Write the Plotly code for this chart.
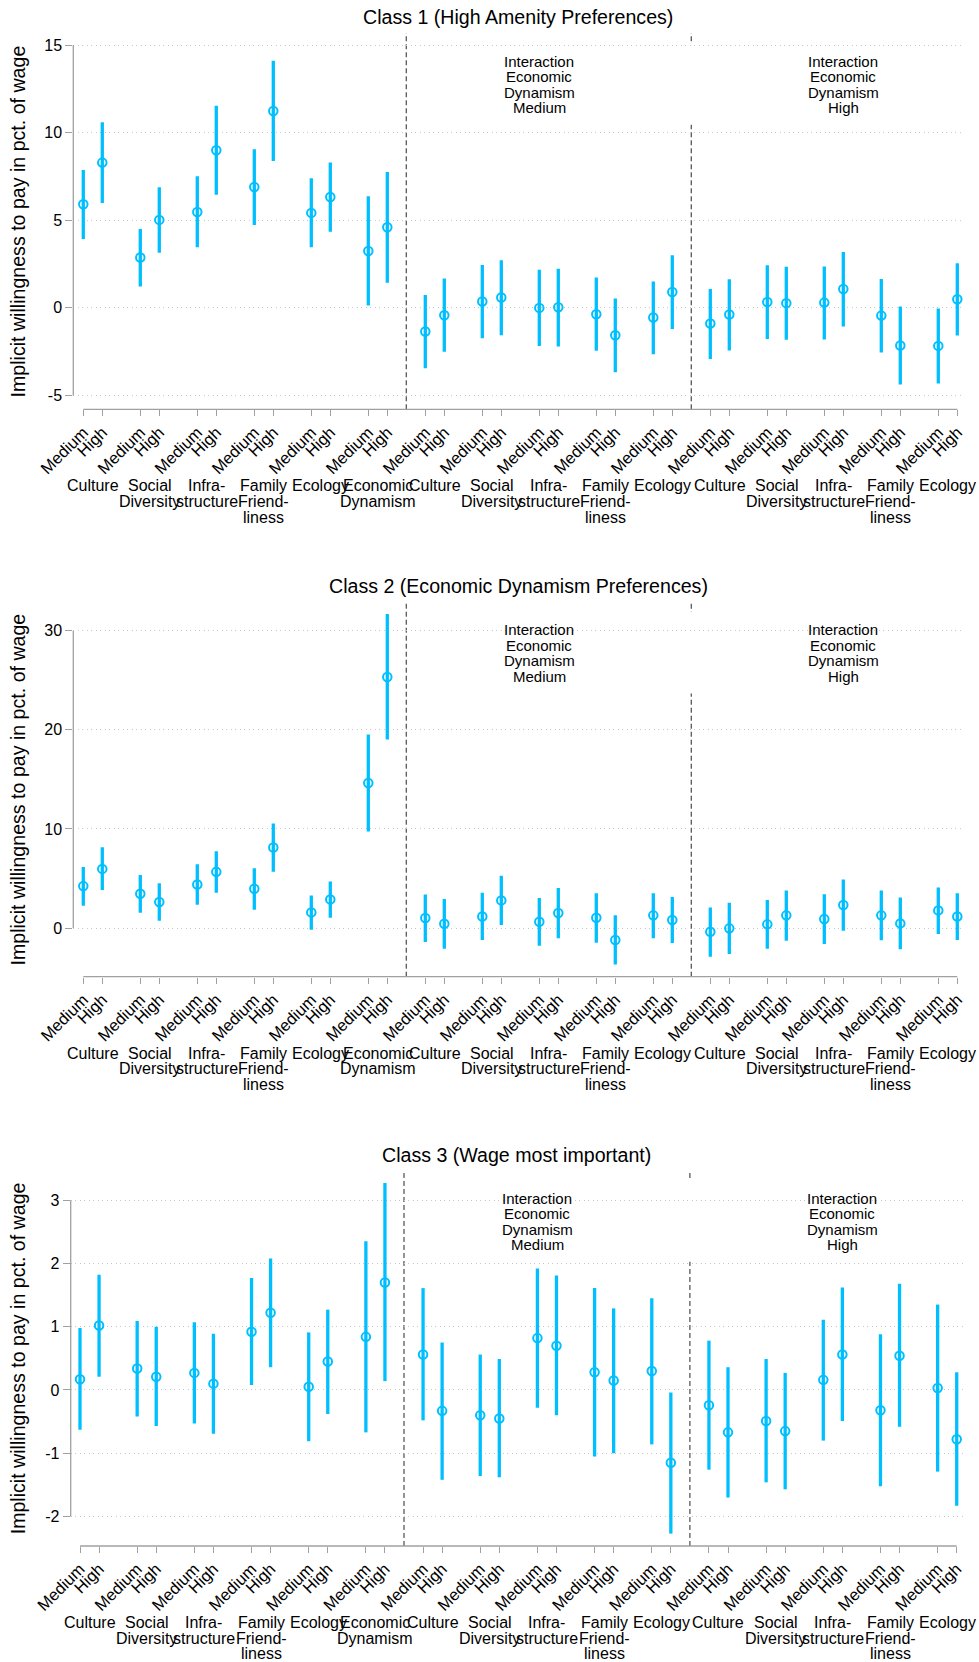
import plotly.graph_objects as go

# ---------------- data ----------------
level_labels = ["Medium", "High"]
main_categories = [["Culture"], ["Social", "Diversity"], ["Infra-", "structure"],
                   ["Family", "Friend-", "liness"], ["Ecology"], ["Economic", "Dynamism"]]
interaction_categories = main_categories[:5]
heading_medium = ["Interaction", "Economic", "Dynamism", "Medium"]
heading_high = ["Interaction", "Economic", "Dynamism", "High"]
panel_titles = ["Class 1 (High Amenity Preferences)",
                "Class 2 (Economic Dynamism Preferences)",
                "Class 3 (Wage most important)"]
y_title = "Implicit willingness to pay in pct. of wage"

# Class 1: main effects (Medium/High per category), interaction with Econ. Dyn. Medium, High
c1_main_est = [5.91, 8.29, 2.87, 5.02, 5.47, 8.99, 6.90, 11.23, 5.42, 6.33, 3.25, 4.60]
c1_main_lo = [3.93, 5.99, 1.22, 3.14, 3.46, 6.46, 4.73, 8.38, 3.46, 4.35, 0.13, 1.43]
c1_main_hi = [7.87, 10.59, 4.50, 6.88, 7.51, 11.54, 9.05, 14.10, 7.39, 8.30, 6.37, 7.75]
c1_med_est = [-1.35, -0.42, 0.36, 0.59, 0.00, 0.04, -0.36, -1.56, -0.55, 0.91]
c1_med_lo = [-3.44, -2.51, -1.73, -1.56, -2.17, -2.20, -2.45, -3.67, -2.64, -1.20]
c1_med_hi = [0.74, 1.67, 2.45, 2.72, 2.17, 2.24, 1.73, 0.53, 1.50, 3.00]
c1_high_est = [-0.89, -0.38, 0.34, 0.27, 0.30, 1.08, -0.44, -2.15, -2.17, 0.49]
c1_high_lo = [-2.91, -2.43, -1.77, -1.82, -1.81, -1.06, -2.55, -4.37, -4.31, -1.58]
c1_high_hi = [1.08, 1.63, 2.43, 2.34, 2.36, 3.19, 1.65, 0.08, -0.04, 2.55]

# Class 2
c2_main_est = [4.23, 5.97, 3.46, 2.62, 4.40, 5.67, 3.96, 8.12, 1.58, 2.89, 14.63, 25.34]
c2_main_lo = [2.25, 3.83, 1.54, 0.74, 2.35, 3.56, 1.85, 5.67, -0.17, 1.04, 9.73, 19.03]
c2_main_hi = [6.17, 8.15, 5.34, 4.53, 6.44, 7.75, 6.04, 10.54, 3.29, 4.70, 19.53, 31.68]
c2_med_est = [1.01, 0.44, 1.17, 2.79, 0.64, 1.51, 1.04, -1.21, 1.28, 0.81]
c2_med_lo = [-1.41, -2.08, -1.21, 0.30, -1.78, -1.04, -1.48, -3.69, -1.04, -1.51]
c2_med_hi = [3.39, 2.92, 3.56, 5.27, 3.02, 4.03, 3.52, 1.28, 3.52, 3.12]
c2_high_est = [-0.37, -0.03, 0.37, 1.28, 0.91, 2.32, 1.28, 0.47, 1.78, 1.17]
c2_high_lo = [-2.89, -2.62, -2.08, -1.28, -1.61, -0.27, -1.24, -2.15, -0.60, -1.21]
c2_high_hi = [2.08, 2.55, 2.82, 3.79, 3.42, 4.90, 3.79, 3.09, 4.09, 3.52]

# Class 3
c3_main_est = [0.17, 1.02, 0.34, 0.21, 0.27, 0.10, 0.92, 1.22, 0.05, 0.45, 0.84, 1.70]
c3_main_lo = [-0.63, 0.21, -0.42, -0.57, -0.53, -0.69, 0.08, 0.36, -0.81, -0.38, -0.67, 0.14]
c3_main_hi = [0.98, 1.82, 1.09, 1.00, 1.07, 0.89, 1.77, 2.08, 0.91, 1.27, 2.35, 3.27]
c3_med_est = [0.56, -0.33, -0.40, -0.45, 0.82, 0.70, 0.28, 0.15, 0.30, -1.15]
c3_med_lo = [-0.48, -1.42, -1.36, -1.38, -0.28, -0.40, -1.05, -1.00, -0.86, -2.27]
c3_med_hi = [1.61, 0.75, 0.56, 0.49, 1.92, 1.81, 1.61, 1.29, 1.45, -0.04]
c3_high_est = [-0.24, -0.67, -0.49, -0.65, 0.16, 0.56, -0.32, 0.54, 0.03, -0.78]
c3_high_lo = [-1.26, -1.70, -1.46, -1.57, -0.80, -0.49, -1.52, -0.58, -1.29, -1.83]
c3_high_hi = [0.78, 0.36, 0.49, 0.27, 1.11, 1.62, 0.88, 1.68, 1.35, 0.28]

c1_yticks = [-5, 0, 5, 10, 15]
c2_yticks = [0, 10, 20, 30]
c3_yticks = [-2, -1, 0, 1, 2, 3]

# ---------------- layout constants (pixels) ----------------
W, H = 979, 1662
FONT = "Liberation Sans, Arial, Helvetica, sans-serif"
BLUE = "#00BFFF"
AXIS_GRAY = "#a0a0a0"
RIGHT_PX = 963

panels = [
    dict(title=panel_titles[0], top=33.0, bottom=409.3, left=73.3, yrange=[-5.787, 15.685],
         xrange=[0.474, 47.3], yticks=c1_yticks,
         est=[c1_main_est, c1_med_est, c1_high_est],
         lo=[c1_main_lo, c1_med_lo, c1_high_lo],
         hi=[c1_main_hi, c1_med_hi, c1_high_hi]),
    dict(title=panel_titles[1], top=601.7, bottom=976.7, left=73.3, yrange=[-4.91, 32.93],
         xrange=[0.474, 47.3], yticks=c2_yticks,
         est=[c2_main_est, c2_med_est, c2_high_est],
         lo=[c2_main_lo, c2_med_lo, c2_high_lo],
         hi=[c2_main_hi, c2_med_hi, c2_high_hi]),
    dict(title=panel_titles[2], top=1170.0, bottom=1546.0, left=70.7, yrange=[-2.466, 3.477],
         xrange=[0.512, 47.33], yticks=c3_yticks,
         est=[c3_main_est, c3_med_est, c3_high_est],
         lo=[c3_main_lo, c3_med_lo, c3_high_lo],
         hi=[c3_main_hi, c3_med_hi, c3_high_hi]),
]
section_cats = [main_categories, interaction_categories, interaction_categories]
section_heads = [None, heading_medium, heading_high]


def py(px):
    return 1 - px / H


# structural positions: pairs (Medium, High) per category, gap of one slot, divider between sections
positions, pair_centers, dividers = [], [], []
p = 1
for s, cats in enumerate(section_cats):
    sec_pos = []
    for lab in cats:
        sec_pos += [p, p + 1]
        pair_centers.append((p + 0.5, lab))
        p += 3
    positions.append(sec_pos)
    if s < 2:
        dividers.append(p - 1)
head_pos = [None, 25, 41]
all_pos = [q for sec in positions for q in sec]
tick_text = [level_labels[i % 2] for i in range(len(all_pos))]

fig = go.Figure()
annotations, shapes = [], []
layout = dict(width=W, height=H, margin=dict(l=0, r=0, t=0, b=0),
              paper_bgcolor="white", plot_bgcolor="white", showlegend=False,
              template="none", font=dict(family=FONT, color="black"))

for i, P in enumerate(panels):
    n = "" if i == 0 else str(i + 1)
    xa, ya = "x" + n, "y" + n
    xs, ys, ep, em = [], [], [], []
    for s in range(3):
        for q, e, l, h in zip(positions[s], P["est"][s], P["lo"][s], P["hi"][s]):
            xs.append(q); ys.append(e); ep.append(h - e); em.append(e - l)
    fig.add_trace(go.Scatter(
        x=xs, y=ys, mode="markers", xaxis=xa, yaxis=ya,
        marker=dict(symbol="circle-open", size=8.5, color=BLUE, line=dict(width=2, color=BLUE)),
        error_y=dict(type="data", symmetric=False, array=ep, arrayminus=em,
                     thickness=3.3, width=0, color=BLUE),
        hoverinfo="skip"))

    layout["xaxis" + n] = dict(
        domain=[P["left"] / W, RIGHT_PX / W], range=P["xrange"], anchor=ya,
        tickmode="array", tickvals=all_pos, ticktext=tick_text, tickangle=-45,
        ticks="outside", ticklen=6, tickwidth=1.2, tickcolor=AXIS_GRAY,
        tickfont=dict(family=FONT, size=16.5, color="black"),
        showgrid=False, zeroline=False, showline=False, automargin=False)
    layout["yaxis" + n] = dict(
        domain=[py(P["bottom"]), py(P["top"])], range=P["yrange"], anchor=xa,
        tickmode="array", tickvals=P["yticks"], ticktext=[str(t) for t in P["yticks"]],
        ticks="outside", ticklen=7, tickwidth=1.2, tickcolor=AXIS_GRAY,
        tickfont=dict(family=FONT, size=16, color="black"),
        showgrid=True, gridcolor="#c8c8c8", gridwidth=1, griddash="1px,3.5px",
        zeroline=False, showline=False, automargin=False)

    # axis lines spanning tick extents
    shapes.append(dict(type="line", xref=xa + " domain", yref=ya, x0=0, x1=0,
                       y0=min(P["yticks"]), y1=max(P["yticks"]),
                       line=dict(color=AXIS_GRAY, width=1.3), layer="above"))
    shapes.append(dict(type="line", xref=xa, yref=ya + " domain", x0=all_pos[0], x1=all_pos[-1],
                       y0=0, y1=0, line=dict(color=AXIS_GRAY, width=1.3), layer="above"))
    # section dividers
    for d in dividers:
        shapes.append(dict(type="line", xref=xa, yref=ya + " domain", x0=d, x1=d, y0=0, y1=1,
                           line=dict(color="#5a5a5a", width=1.3, dash="5px,3px"), layer="below"))
    # white box behind headings
    shapes.append(dict(type="rect", xref=xa, yref="paper", x0=22.04, x1=44.67,
                       y0=py(P["top"] + 28 + 3 * 15.6 + 17), y1=py(P["top"] + 10.3),
                       fillcolor="white", line=dict(width=0), layer="between"))
    # headings
    for s in (1, 2):
        for k, line in enumerate(section_heads[s]):
            annotations.append(dict(xref=xa, yref="paper", x=head_pos[s],
                                    y=py(P["top"] + 28 + k * 15.6), text=line, showarrow=False,
                                    xanchor="center", yanchor="middle",
                                    font=dict(family=FONT, size=15, color="black")))
    # category labels
    for cx, lab in pair_centers:
        for k, line in enumerate(lab):
            annotations.append(dict(xref=xa, yref="paper", x=cx,
                                    y=py(P["bottom"] + 76.7 + k * 15.5), text=line, showarrow=False,
                                    xanchor="center", yanchor="middle",
                                    font=dict(family=FONT, size=16, color="black")))
    # panel title
    annotations.append(dict(xref="paper", yref="paper", x=(P["left"] + RIGHT_PX) / 2 / W,
                            y=py(P["top"] - 15.5), text=P["title"], showarrow=False,
                            xanchor="center", yanchor="middle",
                            font=dict(family=FONT, size=19.6, color="black")))
    # y title
    annotations.append(dict(xref="paper", yref="paper", x=18.3 / W,
                            y=py((P["top"] + P["bottom"]) / 2), text=y_title, showarrow=False,
                            textangle=-90, xanchor="center", yanchor="middle",
                            font=dict(family=FONT, size=19.6, color="black")))

layout["annotations"] = annotations
layout["shapes"] = shapes
fig.update_layout(**layout)
fig.write_html("out.html", config={"displayModeBar": False},
               post_script="document.body.style.margin='0';document.body.style.overflow='hidden';")
